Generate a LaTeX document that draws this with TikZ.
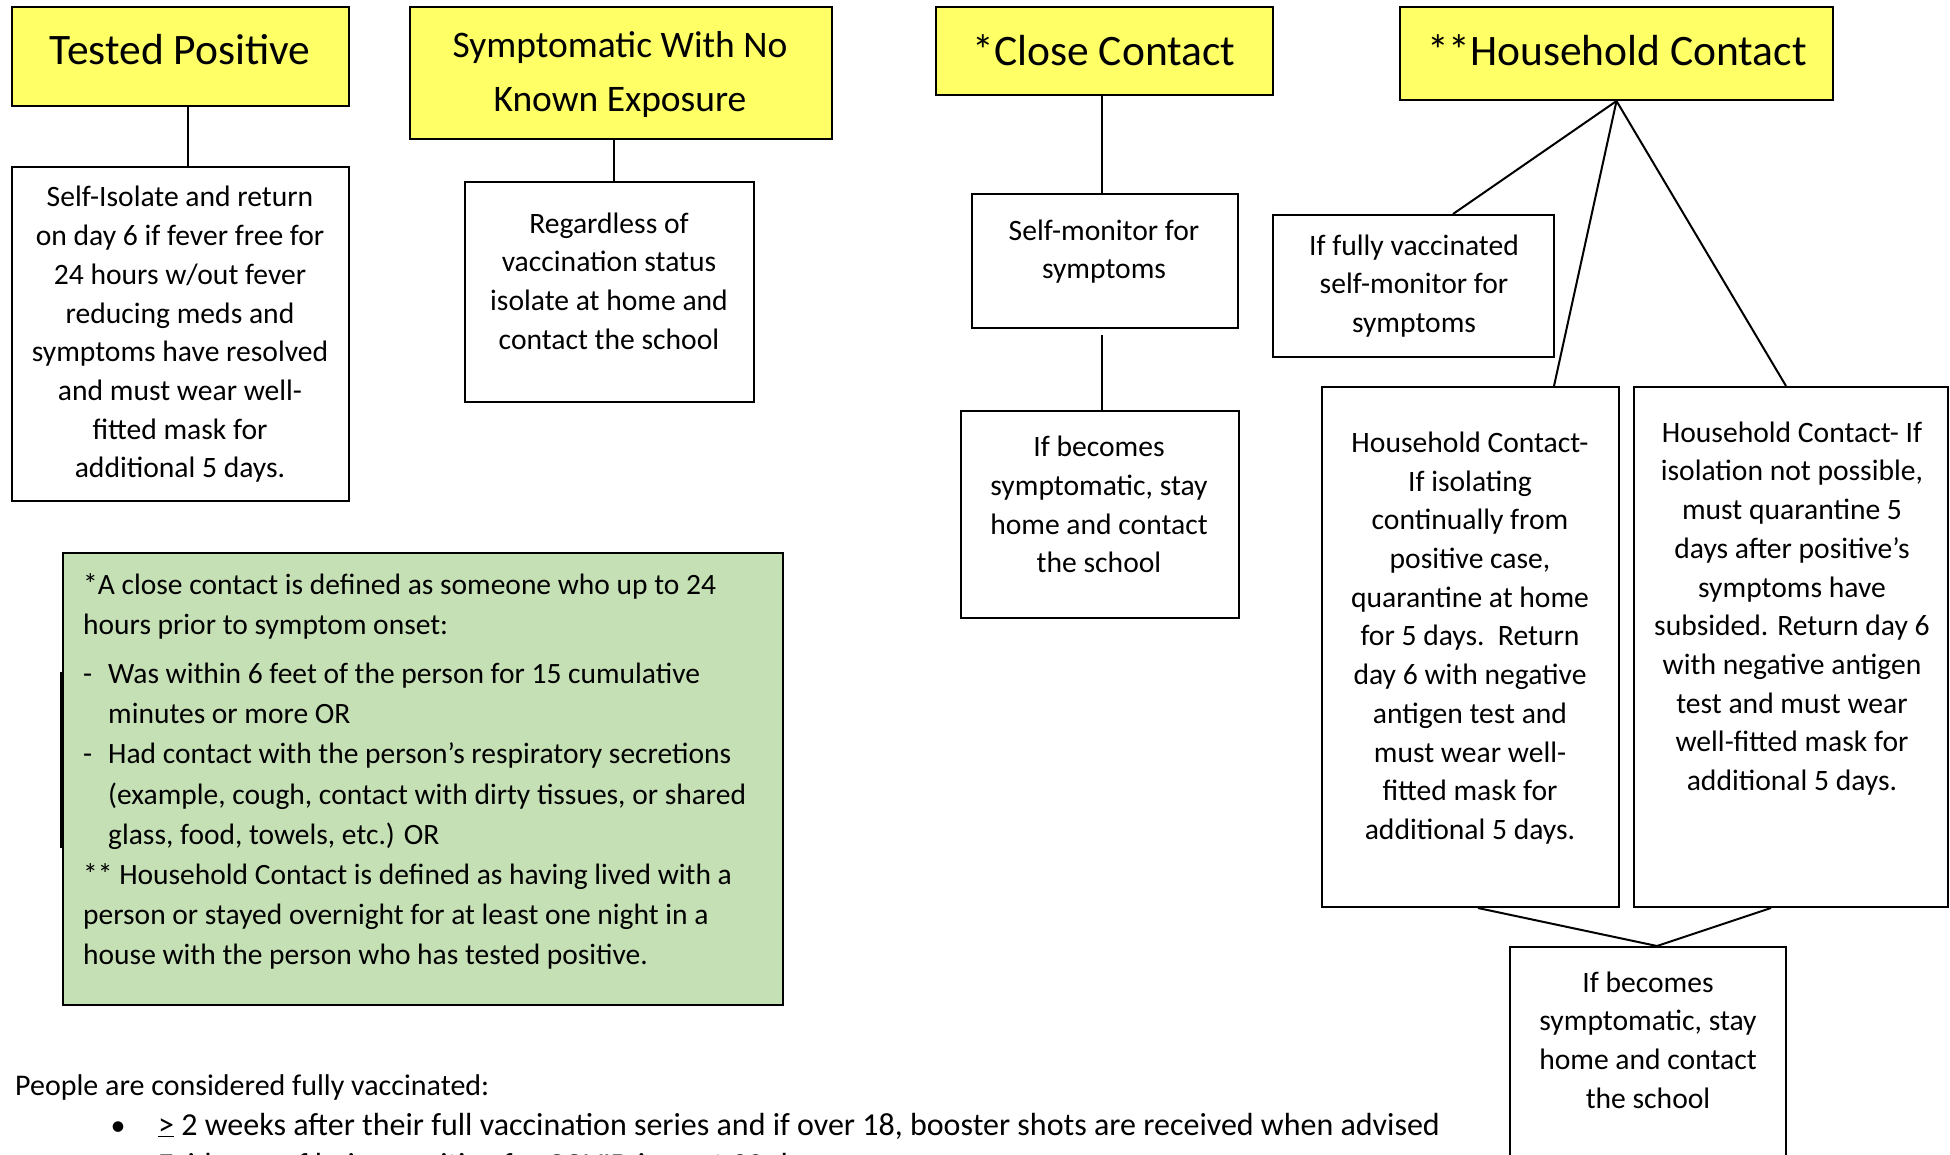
\documentclass[tikz,border=0pt]{standalone}
\usepackage{fontspec}
\setmainfont{Carlito}
\definecolor{hlyellow}{RGB}{255,255,102}
\definecolor{notegreen}{RGB}{197,224,180}
\tikzset{
  box/.style={draw=black, line width=2pt, rectangle, inner sep=0pt, fill=white},
  ybox/.style={box, fill=hlyellow},
  gbox/.style={box, fill=notegreen},
  txt/.style={font=\fontsize{29.6}{38.7}\selectfont, align=center, inner sep=0pt},
  head/.style={font=\fontsize{43.5}{54.7}\selectfont, align=center, inner sep=0pt},
  conn/.style={line width=2pt},
  foot/.style={font=\fontsize{30}{40}\selectfont, inner sep=0pt, anchor=base west},
}
\begin{document}
\begin{tikzpicture}[x=1pt,y=-1pt]
\useasboundingbox[fill=white] (0,0) rectangle (1950,1154);

% boxes
\node[ybox, minimum width=337pt, minimum height=99pt]  (tp)  at (180.5,56.5) {};
\node[box,  minimum width=337pt, minimum height=334pt] (si)  at (180.5,334) {};
\node[ybox, minimum width=422pt, minimum height=132pt] (sym) at (621,73) {};
\node[box,  minimum width=289pt, minimum height=220pt] (reg) at (609.5,292) {};
\node[ybox, minimum width=337pt, minimum height=88pt]  (cc)  at (1104.5,51) {};
\node[box,  minimum width=266pt, minimum height=134pt] (sm)  at (1105,261) {};
\node[box,  minimum width=278pt, minimum height=207pt] (ifb) at (1100,514.5) {};
\node[ybox, minimum width=433pt, minimum height=93pt]  (hh)  at (1616.5,53.5) {};
\node[box,  minimum width=281pt, minimum height=142pt] (fv)  at (1413.5,286) {};
\node[box,  minimum width=297pt, minimum height=520pt] (hc1) at (1470.5,647) {};
\node[box,  minimum width=314pt, minimum height=520pt] (hc2) at (1791,647) {};
\node[box,  minimum width=276pt, minimum height=266pt] (ib2) at (1648,1080) {};
\node[gbox, minimum width=720pt, minimum height=452pt] (note) at (423,779) {};
\draw[line width=2pt] (60.5,672) -- (60.5,848);

% texts
\node[head] (ttp)  at (180,50) {Tested Positive};
\node[txt]  (tsi)  at (180,334.5) {Self-Isolate and return\\on day 6 if fever free for\\24 hours w/out fever\\reducing meds and\\symptoms have resolved\\and must wear well-\\fitted mask for\\additional 5 days.};
\node[head, font=\fontsize{37.5}{54.7}\selectfont] (tsym) at (620,74.5) {Symptomatic With No\\Known Exposure};
\node[txt]  (treg) at (609,281) {Regardless of\\vaccination status\\isolate at home and\\contact the school};
\node[head] (tcc)  at (1104,50) {*Close Contact};
\node[txt]  (tsm)  at (1104,251.5) {Self-monitor for\\symptoms};
\node[txt]  (tifb) at (1099,504.5) {If becomes\\symptomatic, stay\\home and contact\\the school};
\node[head] (thh)  at (1617,50) {**Household Contact};
\node[txt]  (tfv)  at (1414,286) {If fully vaccinated\\self-monitor for\\symptoms};
\node[txt]  (thc1) at (1470,638) {Household Contact-\\If isolating\\continually from\\positive case,\\quarantine at home\\for 5 days.\ \ Return\\day 6 with negative\\antigen test and\\must wear well-\\fitted mask for\\additional 5 days.};
\node[txt]  (thc2) at (1792,608.5) {Household Contact- If\\isolation not possible,\\must quarantine 5\\days after positive’s\\symptoms have\\subsided. Return day 6\\with negative antigen\\test and must wear\\well-fitted mask for\\additional 5 days.};
\node[txt]  (tib2) at (1648,1040) {If becomes\\symptomatic, stay\\home and contact\\the school};

\node[font=\fontsize{29.5}{40.2}\selectfont, align=left, inner sep=0pt, anchor=north west] (tnote) at (83,573.5)
 {*A close contact is defined as someone who up to 24\\
  hours prior to symptom onset:\\[8.5pt]
  \makebox[25pt][l]{-}Was within 6 feet of the person for 15 cumulative\\
  \hspace*{25pt}minutes or more OR\\
  \makebox[25pt][l]{-}Had contact with the person’s respiratory secretions\\
  \hspace*{25pt}(example, cough, contact with dirty tissues, or shared\\
  \hspace*{25pt}glass, food, towels, etc.) OR\\
  ** Household Contact is defined as having lived with a\\
  person or stayed overnight for at least one night in a\\
  house with the person who has tested positive.};

% footer
\node[foot] (f1) at (15,1095) {People are considered fully vaccinated:};
\node[foot, anchor=base] (fb) at (118,1135) {•};
\node[foot, font=\fontsize{32}{40}\selectfont] (f2) at (158,1135) {\underline{>} 2 weeks after their full vaccination series and if over 18, booster shots are received when advised};
\node[foot, font=\fontsize{32}{40}\selectfont] (f3) at (158,1175) {Evidence of being positive for COVID in past 90 days};

% connectors
\draw[conn] ([xshift=7pt]tp.south) -- ([xshift=7pt]tp.south |- si.north);
\draw[conn] ([xshift=-7pt]sym.south) -- ([xshift=-7pt]sym.south |- reg.north);
\draw[conn] ([xshift=-2.5pt]cc.south) -- ([xshift=-2.5pt]cc.south |- sm.north);
\draw[conn] ([xshift=-3pt,yshift=-6pt]sm.south) -- ([xshift=-3pt]sm.south |- ifb.north);
\draw[conn] (hh.south) -- ([xshift=39.5pt]fv.north);
\draw[conn] (hh.south) -- ([xshift=83.5pt]hc1.north);
\draw[conn] (hh.south) -- ([xshift=-5pt]hc2.north);
\draw[conn] ([xshift=7.5pt]hc1.south) -- ([xshift=9pt]ib2.north);
\draw[conn] ([xshift=-20pt]hc2.south) -- ([xshift=9pt]ib2.north);
\end{tikzpicture}
\end{document}
